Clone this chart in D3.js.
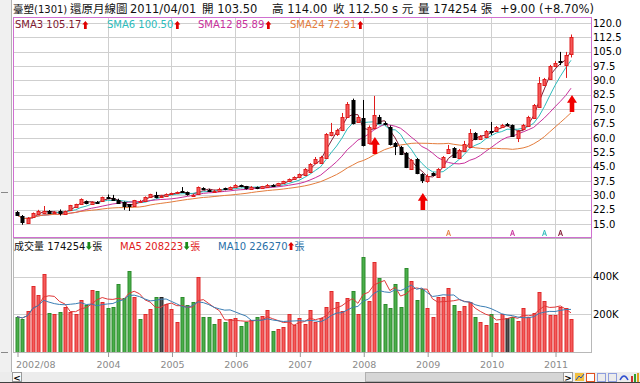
<!DOCTYPE html>
<html>
<head>
<meta charset="utf-8">
<script src="https://cdn.jsdelivr.net/npm/d3@7"></script>
<style>
body { margin: 0; background: #fff; overflow: hidden; }
svg { display: block; }
text { font-family: "DejaVu Sans", "Noto Sans CJK TC", sans-serif; }
</style>
</head>
<body>
<div id="wrapper"></div>
<script>
// 臺塑(1301) 月線 2002/08 ~ 2011/04
const opens = [
  21.3, 19.0, 15.9, 18.6, 20.3, 21.0, 21.9, 20.8, 21.6, 20.4, 22.0, 24.0,
  25.4, 26.8, 25.6, 26.7, 27.0, 29.2, 28.6, 27.6, 26.4, 25.2, 24.3, 26.4,
  27.2, 29.1, 30.4, 29.1, 29.6, 30.6, 31.2, 32.3, 31.6, 29.8, 30.7, 33.6,
  33.0, 32.0, 32.4, 33.6, 33.0, 34.2, 35.3, 34.6, 33.5, 34.4, 33.8, 34.6,
  35.5, 35.0, 36.2, 37.3, 38.4, 39.6, 40.6, 42.0, 46.7, 46.9, 49.5, 61.5,
  61.8, 64.1, 70.9, 79.8, 68.3, 70.4, 57.3, 65.2, 70.9, 67.8, 65.7, 57.3,
  55.2, 52.1, 43.7, 49.0, 41.1, 37.5, 41.6, 39.6, 44.8, 52.1, 54.7, 49.5,
  53.1, 55.2, 62.5, 59.4, 60.5, 63.8, 63.6, 65.7, 67.0, 66.5, 59.9, 64.6,
  66.2, 70.4, 76.1, 87.6, 90.8, 97.6, 100.2, 98.1, 103.5
];
const highs = [
  21.8, 19.7, 18.6, 21.0, 22.4, 24.4, 22.3, 21.8, 22.6, 22.0, 25.0, 25.6,
  28.4, 27.3, 26.8, 27.0, 29.3, 30.4, 30.2, 28.2, 26.8, 25.4, 27.6, 27.6,
  29.4, 30.8, 31.8, 30.2, 31.0, 31.4, 32.0, 34.3, 32.0, 30.8, 34.6, 34.2,
  33.4, 32.9, 33.9, 34.0, 34.6, 35.8, 35.6, 34.9, 34.8, 34.6, 34.9, 35.9,
  35.8, 36.5, 37.6, 38.8, 39.9, 41.4, 44.2, 46.8, 50.0, 50.6, 62.5, 67.8,
  64.8, 73.0, 78.7, 80.5, 71.5, 79.8, 66.5, 81.9, 72.0, 68.6, 66.5, 57.8,
  55.8, 52.6, 49.0, 49.5, 41.6, 41.0, 42.0, 44.2, 50.5, 56.3, 55.2, 54.2,
  58.4, 64.6, 63.0, 61.5, 64.1, 68.3, 66.2, 67.3, 67.8, 67.0, 64.1, 67.3,
  71.5, 77.7, 91.8, 91.3, 98.1, 100.2, 104.9, 104.9, 114.0
];
const lows = [
  19.2, 14.6, 15.2, 18.2, 19.8, 20.6, 20.4, 20.3, 19.4, 20.1, 21.8, 23.7,
  25.0, 25.3, 25.3, 26.0, 26.8, 28.4, 27.4, 25.8, 22.4, 21.8, 24.0, 26.1,
  27.0, 28.9, 28.4, 28.8, 29.4, 30.3, 30.9, 31.6, 29.8, 29.5, 30.5, 32.9,
  32.3, 31.7, 32.0, 32.6, 32.8, 33.9, 34.2, 33.0, 33.2, 33.2, 33.5, 34.3,
  34.6, 34.8, 36.0, 37.0, 38.1, 39.3, 40.3, 41.6, 46.3, 46.5, 49.0, 60.8,
  61.0, 63.5, 70.5, 67.0, 67.8, 55.5, 56.5, 64.5, 67.2, 66.5, 56.0, 51.0,
  51.0, 44.2, 43.2, 41.0, 36.4, 36.5, 40.0, 39.2, 44.4, 51.6, 49.5, 49.0,
  52.6, 54.7, 58.8, 58.9, 60.0, 61.5, 63.1, 65.2, 66.0, 60.5, 57.8, 64.1,
  65.7, 70.0, 75.6, 87.1, 90.3, 97.1, 98.0, 91.3, 102.0
];
const closes = [
  19.9, 15.7, 18.3, 20.5, 21.8, 21.9, 20.8, 21.4, 20.4, 21.8, 24.8, 25.4,
  28.0, 25.6, 26.5, 26.4, 29.0, 28.7, 27.6, 26.1, 24.4, 24.3, 27.3, 27.1,
  29.1, 30.7, 29.6, 29.6, 30.8, 31.2, 31.8, 31.7, 30.3, 30.1, 34.1, 33.1,
  32.6, 32.4, 33.4, 33.0, 34.2, 35.3, 34.6, 33.5, 34.4, 33.8, 34.6, 35.5,
  35.0, 36.2, 37.3, 38.4, 39.6, 41.0, 43.7, 46.3, 48.8, 50.0, 62.0, 63.2,
  64.1, 70.9, 77.7, 67.8, 70.9, 56.3, 65.7, 71.9, 67.8, 67.2, 56.8, 55.8,
  51.6, 44.8, 48.4, 41.6, 38.0, 40.0, 40.8, 43.7, 50.0, 54.2, 50.0, 53.7,
  56.8, 62.5, 59.4, 61.0, 63.6, 63.3, 65.7, 66.7, 66.7, 61.0, 63.6, 66.7,
  70.9, 77.2, 88.7, 90.8, 97.6, 99.2, 99.5, 103.5, 112.5
];
// 成交量(張)
const volumes = [
  187800, 173900, 218100, 351100, 303200, 414900, 205900, 202100, 214400, 237800, 214400, 202100,
  276600, 250000, 329800, 326100, 264400, 235600, 241000, 360100, 288800, 432400, 291000, 173900,
  200500, 228700, 291000, 294100, 255300, 228700, 161200, 291000, 250000, 264400, 400500, 184600,
  187800, 148900, 173900, 161200, 173900, 180800, 138300, 161200, 170200, 187800, 191500, 223400,
  111700, 120700, 134600, 202100, 143600, 180800, 148900, 223400, 161200, 179300, 241000, 326100,
  264400, 218100, 285600, 324500, 200500, 503700, 271300, 477100, 392000, 255300, 235600, 361700,
  241000, 445200, 377600, 276600, 333500, 235600, 187800, 291000, 291000, 342000, 250000, 218100,
  244700, 264400, 187800, 161200, 143600, 202100, 155800, 202100, 182400, 187800, 166500, 235600,
  187800, 209000, 318000, 271300, 196800, 196800, 241000, 232400, 174254
];

const tickIndex = [0, 17, 29, 41, 53, 65, 77, 89, 101];
const tickLabels = ["2002/08", "2004", "2005", "2006", "2007", "2008", "2009", "2010", "2011"];
const priceTicks = [15, 22.5, 30, 37.5, 45, 52.5, 60, 67.5, 75, 82.5, 90, 97.5, 105, 112.5, 120];
const volTicks = [200000, 400000];
const volTickLabels = ["200K", "400K"];

const smaPeriods = [3, 6, 12, 24];
const smaNames = ["SMA3", "SMA6", "SMA12", "SMA24"];
const smaValues = ["105.17", "100.50", "85.89", "72.91"];
const smaColors = ["#801830", "#2cbcbc", "#c8309c", "#e47c3c"];

const volMaPeriods = [5, 10];
const volMaColors = ["#e03838", "#3a7eb4"];

// 訊號箭頭 (月份序號, 箭頭尖端價位)
const signalIndex = [67, 76, 104];
const signalPrice = [60.4, 31.2, 82.4];
// 均線交叉小記號
const crossIndex = [81, 93, 99, 102];
const crossColors = ["#e47c3c", "#c8309c", "#2cbcbc", "#801830"];

const dim = { width: 640, height: 383 };
const frame = { left: 13, right: 591, top: 17, bottom: 237, volTop: 238, volBottom: 352 };

const months = d3.timeMonth.range(new Date(2002, 7, 1), new Date(2011, 4, 1));
const monthKey = d3.timeFormat("%Y/%m");
const keys = months.map(monthKey);

const x = d3.scalePoint().domain(keys).range([17, 571]);
const y = d3.scaleLinear().domain([15, 120]).range([224, 23]);
const yVol = d3.scaleLinear().domain([0, 400000]).range([352, 276.7]);

const svg = d3.select("#wrapper").append("svg")
    .attr("width", dim.width)
    .attr("height", dim.height);

const defs = svg.append("defs");
defs.append("clipPath").attr("id", "clipMain").append("rect")
    .attr("x", frame.left).attr("y", frame.top)
    .attr("width", frame.right - frame.left).attr("height", frame.bottom - frame.top);
defs.append("clipPath").attr("id", "clipVol").append("rect")
    .attr("x", frame.left).attr("y", frame.volTop)
    .attr("width", frame.right - frame.left).attr("height", frame.volBottom - frame.volTop);

// window chrome
svg.append("rect").attr("x", 0).attr("y", 0).attr("width", 12).attr("height", 383).attr("fill", "#f0f0f0");
svg.append("line").attr("x1", 11.5).attr("x2", 11.5).attr("y1", 0).attr("y2", 372).attr("stroke", "#b4b4b4");
svg.append("line").attr("x1", 1).attr("x2", 8).attr("y1", 192.5).attr("y2", 192.5).attr("stroke", "#888");
svg.append("line").attr("x1", 1).attr("x2", 8).attr("y1", 352.5).attr("y2", 352.5).attr("stroke", "#888");

// grids
const xGrid = tickIndex.slice(1).map(i => Math.round(x(keys[i])) + 0.5);
const grid = svg.append("g").attr("stroke", "#cfcfcf").attr("stroke-width", 1);
grid.selectAll(".vg").data(xGrid).join("line")
    .attr("x1", d => d).attr("x2", d => d)
    .attr("y1", frame.top).attr("y2", frame.volBottom);
grid.selectAll(".hg").data(priceTicks).join("line")
    .attr("x1", frame.left).attr("x2", frame.right)
    .attr("y1", d => Math.round(y(d)) + 0.5).attr("y2", d => Math.round(y(d)) + 0.5);
grid.selectAll(".hv").data(volTicks).join("line")
    .attr("x1", frame.left).attr("x2", frame.right)
    .attr("y1", d => Math.round(yVol(d)) + 0.5).attr("y2", d => Math.round(yVol(d)) + 0.5);

// volume panel border
svg.append("rect")
    .attr("x", frame.left + 0.5).attr("y", frame.volTop + 0.5)
    .attr("width", frame.right - frame.left).attr("height", frame.volBottom - frame.volTop)
    .attr("fill", "none").attr("stroke", "#b8b8b8");

// moving averages (price)
function movingAvg(arr, n) {
    return arr.map((d, i) => d3.mean(arr.slice(Math.max(0, i - n + 1), i + 1)));
}
const main = svg.append("g").attr("clip-path", "url(#clipMain)");
smaPeriods.forEach((n, k) => {
    const ma = movingAvg(closes, n);
    const line = d3.line().x((d, i) => x(keys[i])).y(d => y(d));
    main.append("path")
        .attr("d", line(ma))
        .attr("fill", "none")
        .attr("stroke", smaColors[k])
        .attr("stroke-width", 1);
});

// candles
const candle = main.selectAll(".candle").data(keys).join("g");
candle.append("line")
    .attr("x1", d => Math.round(x(d)) + 0.5).attr("x2", d => Math.round(x(d)) + 0.5)
    .attr("y1", (d, i) => y(highs[i])).attr("y2", (d, i) => y(lows[i]))
    .attr("stroke", (d, i) => closes[i] >= opens[i] ? "#e01c1c" : "#000");
candle.append("rect")
    .attr("x", d => Math.round(x(d)) - 1)
    .attr("width", 3)
    .attr("y", (d, i) => Math.round(y(Math.max(opens[i], closes[i]))) + 0.5)
    .attr("height", (d, i) => Math.max(1, Math.round(Math.abs(y(opens[i]) - y(closes[i])))))
    .attr("fill", (d, i) => closes[i] >= opens[i] ? "#f45a5a" : "#000")
    .attr("stroke", (d, i) => closes[i] >= opens[i] ? "#e01c1c" : "#000");

// signal arrows
function arrowPath(cx, top, w, h, up) {
    const hh = h * 0.45, sw = w * 0.46;
    const p = up
        ? [[cx, top], [cx + w / 2, top + hh], [cx + sw / 2, top + hh], [cx + sw / 2, top + h], [cx - sw / 2, top + h], [cx - sw / 2, top + hh], [cx - w / 2, top + hh]]
        : [[cx, top + h], [cx + w / 2, top + h - hh], [cx + sw / 2, top + h - hh], [cx + sw / 2, top], [cx - sw / 2, top], [cx - sw / 2, top + h - hh], [cx - w / 2, top + h - hh]];
    return "M" + p.map(q => q.join(",")).join("L") + "Z";
}
main.selectAll(".sig").data(signalIndex).join("path")
    .attr("d", (d, k) => arrowPath(x(keys[d]) + 1, y(signalPrice[k]), 10, 17, true))
    .attr("fill", "#f00000");

// cross markers
main.selectAll(".cross").data(crossIndex).join("path")
    .attr("d", d => { const cx = Math.round(x(keys[d])) + 0.5; return `M${cx - 2},236 L${cx},230 L${cx + 2},236 M${cx - 1.3},234 L${cx + 1.3},234`; })
    .attr("fill", "none")
    .attr("stroke", (d, k) => crossColors[k]);

// main frame
svg.append("rect")
    .attr("x", frame.left + 0.5).attr("y", frame.top + 0.5)
    .attr("width", frame.right - frame.left).attr("height", frame.bottom - frame.top)
    .attr("fill", "none").attr("stroke", "#d070d0");

// volume bars
const vol = svg.append("g").attr("clip-path", "url(#clipVol)");
function volColor(i) {
    if (i === 0) return closes[0] >= opens[0] ? "up" : "down";
    if (closes[i] > closes[i - 1]) return "up";
    if (closes[i] < closes[i - 1]) return "down";
    return "flat";
}
const volFill = { up: "#f45c5c", down: "#4aae4a", flat: "#555" };
const volStroke = { up: "#e02a2a", down: "#2c8c2c", flat: "#222" };
vol.selectAll(".vb").data(keys).join("rect")
    .attr("x", d => Math.round(x(d)) - 1)
    .attr("width", 3)
    .attr("y", (d, i) => Math.round(yVol(volumes[i])) + 0.5)
    .attr("height", (d, i) => frame.volBottom - Math.round(yVol(volumes[i])))
    .attr("fill", (d, i) => volFill[volColor(i)])
    .attr("stroke", (d, i) => volStroke[volColor(i)]);
volMaPeriods.forEach((n, k) => {
    const ma = movingAvg(volumes, n);
    const line = d3.line().x((d, i) => x(keys[i])).y(d => yVol(d));
    vol.append("path")
        .attr("d", line(ma))
        .attr("fill", "none")
        .attr("stroke", volMaColors[k])
        .attr("stroke-width", 1);
});

// right axes
const yAxis = d3.axisRight(y).tickValues(priceTicks).tickSize(0).tickPadding(0).tickFormat(d3.format(".1f"));
svg.append("g").attr("transform", `translate(${frame.right + 2},0)`).call(yAxis)
    .call(g => g.select(".domain").remove())
    .selectAll("text").attr("font-size", 10).attr("fill", "#000").attr("font-family", "DejaVu Sans");
const yVolAxis = d3.axisRight(yVol).tickValues(volTicks).tickSize(0).tickPadding(0).tickFormat((d, i) => volTickLabels[i]);
svg.append("g").attr("transform", `translate(${frame.right + 2},0)`).call(yVolAxis)
    .call(g => g.select(".domain").remove())
    .selectAll("text").attr("font-size", 10).attr("fill", "#000").attr("font-family", "DejaVu Sans");

// bottom axis
const xAxis = d3.axisBottom(x).tickValues(tickIndex.map(i => keys[i])).tickSize(5).tickPadding(4)
    .tickFormat((d, i) => tickLabels[i]);
const gx = svg.append("g").attr("transform", `translate(0.5,${frame.volBottom})`).call(xAxis);
gx.select(".domain").remove();
gx.selectAll("line").attr("stroke", "#999");
gx.selectAll("text").attr("font-size", 9.5).attr("fill", "#8a8a8a").attr("font-family", "DejaVu Sans");
gx.select(".tick text").attr("text-anchor", "start").attr("x", -2);

// header
const head = svg.append("g").attr("font-size", 11.5).attr("fill", "#111");
head.append("text").attr("x", 13).attr("y", 12.5).attr("font-size", 10.5).text("臺塑");
head.append("text").attr("x", 34).attr("y", 12.5).attr("font-family", "Liberation Serif").attr("font-size", 10).text("(1301)");
const headParts = [
    ["還原月線圖", 70], ["2011/04/01", 130], ["開 103.50", 202],
    ["高 114.00", 272], ["收 112.50 s 元", 333], ["量 174254 張", 418], ["+9.00 (+8.70%)", 500]
];
head.selectAll(".hp").data(headParts).join("text")
    .attr("x", d => d[1]).attr("y", 12.5).text(d => d[0]);

// legend
const legendX = [15, 107, 198, 290];
const legend = svg.append("g").attr("font-size", 10);
smaNames.forEach((name, k) => {
    const t = legend.append("text").attr("x", legendX[k]).attr("y", 28)
        .attr("fill", smaColors[k]).text(`${name} ${smaValues[k]}`);
    const w = t.node().getComputedTextLength();
    legend.append("path").attr("d", arrowPath(legendX[k] + w + 4, 21, 6, 8, true)).attr("fill", "#e00000");
});

// volume legend
const vLegend = svg.append("g").attr("font-size", 10);
const vParts = [
    { x: 14, label: "成交量 174254", color: "#111", up: false, unit: "#111" },
    { x: 120, label: "MA5 208223", color: "#e02020", up: false, unit: "#e02020" },
    { x: 218, label: "MA10 226270", color: "#2a70a8", up: true, unit: "#2a70a8" }
];
vParts.forEach(p => {
    const t = vLegend.append("text").attr("x", p.x).attr("y", 249.5).attr("fill", p.color).text(p.label);
    const w = t.node().getComputedTextLength();
    vLegend.append("path").attr("d", arrowPath(p.x + w + 3.5, 242, 6, 8, p.up)).attr("fill", p.up ? "#e00000" : "#1a8a1a");
    vLegend.append("text").attr("x", p.x + w + 7).attr("y", 249.5).attr("fill", p.unit).text("張");
});

// scrollbar
svg.append("rect").attr("x", 0).attr("y", 372).attr("width", 640).attr("height", 10).attr("fill", "#ececec");
svg.append("rect").attr("x", 12.5).attr("y", 372.5).attr("width", 9).attr("height", 9).attr("fill", "#fafafa").attr("stroke", "#9a9a9a");
svg.append("text").attr("x", 17).attr("y", 380.5).attr("text-anchor", "middle").attr("font-size", 9).attr("font-weight", "bold").text("<");
svg.append("rect").attr("x", 365.5).attr("y", 372.5).attr("width", 198).attr("height", 9).attr("fill", "#d6d6d6").attr("stroke", "#b0b0b0");
svg.append("rect").attr("x", 563.5).attr("y", 372.5).attr("width", 9).attr("height", 9).attr("fill", "#fafafa").attr("stroke", "#9a9a9a");
svg.append("text").attr("x", 568).attr("y", 380.5).attr("text-anchor", "middle").attr("font-size", 9).attr("font-weight", "bold").text(">");
// toolbar icons
const icons = svg.append("g");
icons.append("rect").attr("x", 575).attr("y", 373).attr("width", 9).attr("height", 8).attr("fill", "#f2c040");
icons.append("path").attr("d", "M576,380 L579,376 L581,378 L584,374").attr("fill", "none").attr("stroke", "#2050c0");
icons.append("rect").attr("x", 586.5).attr("y", 373.5).attr("width", 8).attr("height", 8).attr("fill", "#fff").attr("stroke", "#e05020");
icons.append("rect").attr("x", 597.5).attr("y", 373.5).attr("width", 8).attr("height", 8).attr("fill", "none").attr("stroke", "#3050d0").attr("stroke-dasharray", "1,1");
icons.append("rect").attr("x", 608.5).attr("y", 373.5).attr("width", 8).attr("height", 8).attr("fill", "none").attr("stroke", "#3050d0").attr("stroke-dasharray", "1,1");
icons.append("path").attr("d", "M620,380 Q624,372 628,380").attr("fill", "none").attr("stroke", "#3050d0").attr("stroke-width", 1.5);
icons.append("rect").attr("x", 631).attr("y", 376).attr("width", 2).attr("height", 6).attr("fill", "#d03030");
icons.append("rect").attr("x", 634).attr("y", 374).attr("width", 2).attr("height", 8).attr("fill", "#30a030");
icons.append("rect").attr("x", 637).attr("y", 373).attr("width", 2).attr("height", 9).attr("fill", "#e0a020");
svg.append("rect").attr("x", 0).attr("y", 382).attr("width", 640).attr("height", 1).attr("fill", "#404040");
</script>
</body>
</html>
